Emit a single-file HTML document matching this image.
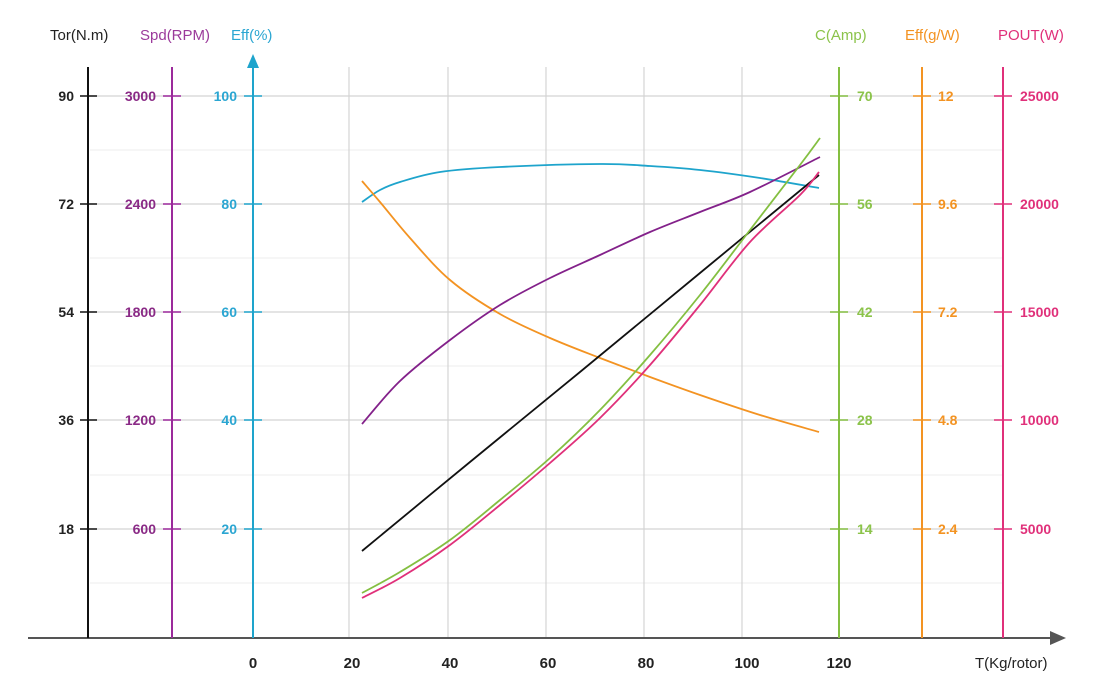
<!DOCTYPE html>
<html><head><style>body{margin:0;background:#fff}svg{display:block}text{font-family:"Liberation Sans",sans-serif}</style></head><body>
<svg id="s" width="1115" height="700" xmlns="http://www.w3.org/2000/svg">
<g stroke="#d4d4d4" stroke-width="1.2">
<line x1="90" y1="96" x2="1003" y2="96"/><line x1="90" y1="204" x2="1003" y2="204"/><line x1="90" y1="312" x2="1003" y2="312"/><line x1="90" y1="420" x2="1003" y2="420"/><line x1="90" y1="529" x2="1003" y2="529"/>
</g>
<g stroke="#ececec" stroke-width="1">
<line x1="90" y1="150" x2="1003" y2="150"/><line x1="90" y1="258" x2="1003" y2="258"/><line x1="90" y1="366" x2="1003" y2="366"/><line x1="90" y1="475" x2="1003" y2="475"/><line x1="90" y1="583" x2="1003" y2="583"/>
</g>
<g stroke="#d4d4d4" stroke-width="1.2">
<line x1="349" y1="67" x2="349" y2="638"/><line x1="448" y1="67" x2="448" y2="638"/><line x1="546" y1="67" x2="546" y2="638"/><line x1="644" y1="67" x2="644" y2="638"/><line x1="742" y1="67" x2="742" y2="638"/>
</g>
<line x1="28" y1="638" x2="1055" y2="638" stroke="#555" stroke-width="2"/>
<polygon points="1066,638 1050,631 1050,645" fill="#555"/>
<g stroke-width="2">
<line x1="88" y1="67" x2="88" y2="638" stroke="#111"/>
<line x1="172" y1="67" x2="172" y2="638" stroke="#9b2a9b"/>
<line x1="253" y1="66" x2="253" y2="638" stroke="#1ea4cc"/>
<line x1="839" y1="67" x2="839" y2="638" stroke="#84bf41"/>
<line x1="922" y1="67" x2="922" y2="638" stroke="#f39322"/>
<line x1="1003" y1="67" x2="1003" y2="638" stroke="#e0307a"/>
</g>
<polygon points="253,54 247,68 259,68" fill="#1ea4cc"/>
<g font-size="14" font-weight="bold">
<g fill="#222" text-anchor="end"><text x="74" y="101">90</text><text x="74" y="209">72</text><text x="74" y="317">54</text><text x="74" y="425">36</text><text x="74" y="534">18</text></g>
<g fill="#8a2a86" text-anchor="end"><text x="156" y="101">3000</text><text x="156" y="209">2400</text><text x="156" y="317">1800</text><text x="156" y="425">1200</text><text x="156" y="534">600</text></g>
<g fill="#2ba6d2" text-anchor="end"><text x="237" y="101">100</text><text x="237" y="209">80</text><text x="237" y="317">60</text><text x="237" y="425">40</text><text x="237" y="534">20</text></g>
<g fill="#8bc34a"><text x="857" y="101">70</text><text x="857" y="209">56</text><text x="857" y="317">42</text><text x="857" y="425">28</text><text x="857" y="534">14</text></g>
<g fill="#f39322"><text x="938" y="101">12</text><text x="938" y="209">9.6</text><text x="938" y="317">7.2</text><text x="938" y="425">4.8</text><text x="938" y="534">2.4</text></g>
<g fill="#e0307a"><text x="1020" y="101">25000</text><text x="1020" y="209">20000</text><text x="1020" y="317">15000</text><text x="1020" y="425">10000</text><text x="1020" y="534">5000</text></g>
<g fill="#222" font-size="15" text-anchor="middle"><text x="253" y="668">0</text><text x="352" y="668">20</text><text x="450" y="668">40</text><text x="548" y="668">60</text><text x="646" y="668">80</text><text x="747" y="668">100</text><text x="839" y="668">120</text></g>
</g>
<g stroke-width="1.6">
<g stroke="#111"><line x1="80" y1="96" x2="97" y2="96"/><line x1="80" y1="204" x2="97" y2="204"/><line x1="80" y1="312" x2="97" y2="312"/><line x1="80" y1="420" x2="97" y2="420"/><line x1="80" y1="529" x2="97" y2="529"/></g>
<g stroke="#9b2a9b"><line x1="163" y1="96" x2="181" y2="96"/><line x1="163" y1="204" x2="181" y2="204"/><line x1="163" y1="312" x2="181" y2="312"/><line x1="163" y1="420" x2="181" y2="420"/><line x1="163" y1="529" x2="181" y2="529"/></g>
<g stroke="#1ea4cc"><line x1="244" y1="96" x2="262" y2="96"/><line x1="244" y1="204" x2="262" y2="204"/><line x1="244" y1="312" x2="262" y2="312"/><line x1="244" y1="420" x2="262" y2="420"/><line x1="244" y1="529" x2="262" y2="529"/></g>
<g stroke="#84bf41"><line x1="830" y1="96" x2="848" y2="96"/><line x1="830" y1="204" x2="848" y2="204"/><line x1="830" y1="312" x2="848" y2="312"/><line x1="830" y1="420" x2="848" y2="420"/><line x1="830" y1="529" x2="848" y2="529"/></g>
<g stroke="#f39322"><line x1="913" y1="96" x2="931" y2="96"/><line x1="913" y1="204" x2="931" y2="204"/><line x1="913" y1="312" x2="931" y2="312"/><line x1="913" y1="420" x2="931" y2="420"/><line x1="913" y1="529" x2="931" y2="529"/></g>
<g stroke="#e0307a"><line x1="994" y1="96" x2="1012" y2="96"/><line x1="994" y1="204" x2="1012" y2="204"/><line x1="994" y1="312" x2="1012" y2="312"/><line x1="994" y1="420" x2="1012" y2="420"/><line x1="994" y1="529" x2="1012" y2="529"/></g>
</g>
<g font-size="15">
<text x="50" y="40" fill="#222">Tor(N.m)</text>
<text x="140" y="40" fill="#9b3a9b">Spd(RPM)</text>
<text x="231" y="40" fill="#2ba6d2">Eff(%)</text>
<text x="815" y="40" fill="#8bc34a">C(Amp)</text>
<text x="905" y="40" fill="#f39322">Eff(g/W)</text>
<text x="998" y="40" fill="#e0307a">POUT(W)</text>
<text x="975" y="668" fill="#222">T(Kg/rotor)</text>
</g>
<g id="c" fill="none" stroke-width="1.8">
<path stroke="#1ea4cc" data-p="362,202 380,190 400,182 440,172 500,167 600,164 650,166 700,170 760,178 819,188"/>
<path stroke="#f39322" data-p="362,181 380,202 410,238 450,280 500,314 550,338 600,358 650,377 700,395 760,415 819,432"/>
<path stroke="#83218a" data-p="362,424 400,381 450,340 500,305 550,278 600,255 650,232 700,212 750,192 820,157"/>
<path stroke="#111" data-p="362,551 470,462 580,372 700,273 819,175"/>
<path stroke="#84bf41" data-p="362,593 400,572 450,540 500,500 550,458 600,410 650,355 700,295 750,230 800,165 820,138"/>
<path stroke="#e0307a" data-p="362,598 400,578 450,545 500,505 550,463 600,418 650,365 700,305 750,242 800,195 819,172"/>
</g>
</svg>
<script>
document.querySelectorAll('#c path').forEach(function(el){
var p=el.getAttribute('data-p').split(' ').map(function(s){return s.split(',').map(Number)});
var d='M'+p[0][0]+','+p[0][1];
for(var i=0;i<p.length-1;i++){
var p0=p[i-1]||p[i],p1=p[i],p2=p[i+1],p3=p[i+2]||p2;
var c1x=p1[0]+(p2[0]-p0[0])/6,c1y=p1[1]+(p2[1]-p0[1])/6,c2x=p2[0]-(p3[0]-p1[0])/6,c2y=p2[1]-(p3[1]-p1[1])/6;
d+=' C'+c1x+','+c1y+' '+c2x+','+c2y+' '+p2[0]+','+p2[1];}
el.setAttribute('d',d);el.removeAttribute('data-p');});
</script>
</body></html>
